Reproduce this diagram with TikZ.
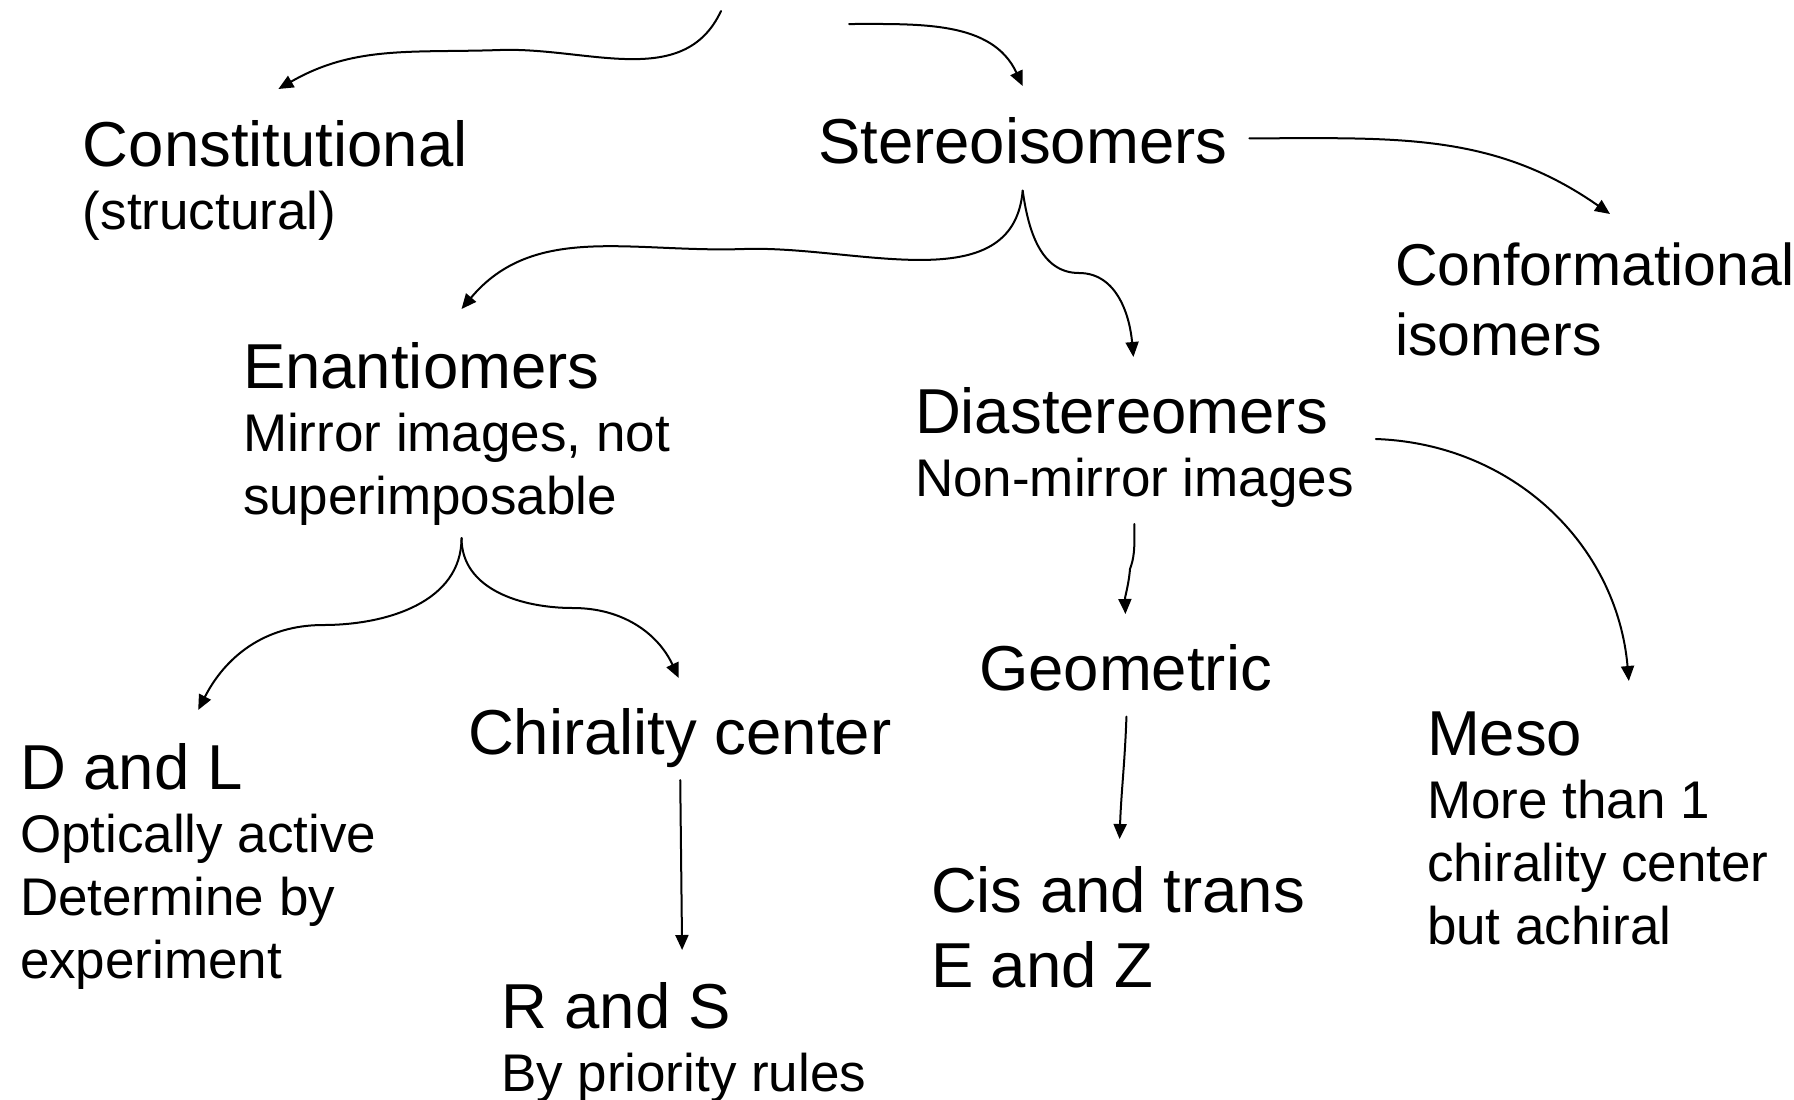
\documentclass[tikz,border=0pt]{standalone}
\usepackage{fontspec}
\setmainfont{Liberation Sans}
\usetikzlibrary{arrows.meta}
\newcommand{\bigtxt}{\fontsize{31.75pt}{37.5pt}\selectfont}
\newcommand{\smalltxt}{\fontsize{26.5pt}{31.5pt}\selectfont}
\begin{document}
\begin{tikzpicture}[x=0.5pt,y=0.5pt,line join=round,line cap=round,>={Triangle[length=7.5pt,width=6.5pt]},
  box/.style={anchor=north west,inner sep=0pt,outer sep=0pt,align=left,font=\smalltxt},
  arr/.style={->,line width=1pt}]
\useasboundingbox (0,0) rectangle (1794,-1099);
% the two top arrows come from above the frame
\coordinate (r1) at (721,-11);
\coordinate (r2) at (849,-24);
\node[box] (constit) at (83,-120) {{\bigtxt Constitutional}\\(structural)};
\node[box,font=\bigtxt] (stereo) at (818,-117) {Stereoisomers};
\node[box,font=\fontsize{29.5pt}{35pt}\selectfont] (conform) at (1395,-243) {Conformational\\isomers};
\node[box] (enant) at (243,-342) {{\bigtxt Enantiomers}\\Mirror images, not\\superimposable};
\node[box] (diast) at (915,-387) {{\bigtxt Diastereomers}\\Non-mirror images};
\node[box] (dl) at (20,-743) {{\bigtxt D and L}\\Optically active\\Determine by\\experiment};
\node[box,font=\bigtxt] (chiral) at (468,-708) {Chirality center};
\node[box,font=\bigtxt] (geom) at (979,-644) {Geometric};
\node[box] (meso) at (1427,-712) {{\bigtxt Meso}\\More than 1\\chirality center\\but achiral};
\node[box] (rs) at (501,-982) {{\bigtxt R and S}\\By priority rules};
\node[box,font=\bigtxt] (cis) at (931,-866) {Cis and trans\\E and Z};
% connectors
\draw[arr] (r1) to[out=-115,in=2] (500,-50) to[out=182,in=30] ([shift={(3,31)}]constit.north);
\draw[arr] (r2) to[out=0,in=115] ([shift={(0,31)}]stereo.north);
\draw[arr] ([shift={(22,2)}]stereo.east) to[out=0,in=145] ([shift={(15,29)}]conform.north);
\draw[arr] ([shift={(0,-27)}]stereo.south) to[out=-95,in=2] (744,-249) to[out=182,in=50] ([shift={(5,33)}]enant.north);
\draw[arr] ([shift={(0,-27)}]stereo.south) to[out=-82,in=180] (1079,-273) to[out=0,in=95] ([shift={(-1,30)}]diast.north);
\draw[arr] ([shift={(5,-13)}]enant.south) to[out=-90,in=0] (323,-625) to[out=180,in=63] ([shift={(0,33)}]dl.north);
\draw[arr] ([shift={(5,-13)}]enant.south) to[out=-90,in=180] (573,-608) to[out=0,in=115] ([shift={(-1,30)}]chiral.north);
\draw[arr] ([shift={(0,-17)}]diast.south) to[out=-92,in=70] (1130,-569) to[out=-95,in=92] ([shift={(0,30)}]geom.north);
\draw[arr] ([shift={(22,8)}]diast.east) to[out=-2,in=95] ([shift={(31,31)}]meso.north);
\draw[arr] ([shift={(1,-26)}]geom.south) to[out=-92,in=88] ([shift={(1.5,27)}]cis.north);
\draw[arr] ([shift={(0.5,-13)}]chiral.south) -- ([shift={(-1.5,32)}]rs.north);
\end{tikzpicture}
\end{document}
